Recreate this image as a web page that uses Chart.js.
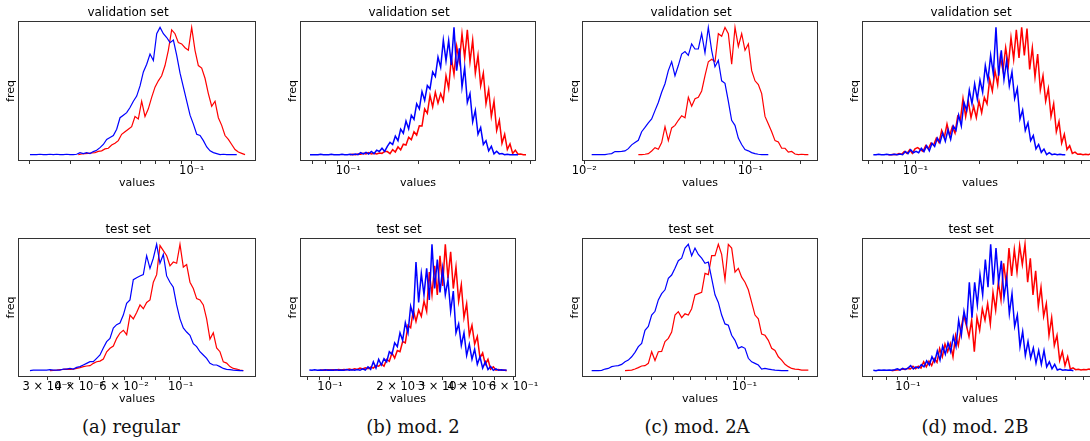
<!DOCTYPE html>
<html>
<head>
<meta charset="utf-8">
<script src="https://cdn.jsdelivr.net/npm/chart.js@4.4.1/dist/chart.umd.min.js"></script>
<style>
  body { margin: 0; width: 1090px; height: 441px; overflow: hidden; background: #fff; position: relative; }
  canvas { position: absolute; }
  .cap { position: absolute; font-family: 'DejaVu Serif', serif; font-size: 18px; line-height: 22px; color: #111; transform: translateX(-50%); white-space: nowrap; }
</style>
</head>
<body>
<div class="cap" style="left:131px; top:416px">(a) regular</div>
<div class="cap" style="left:413px; top:416px">(b) mod. 2</div>
<div class="cap" style="left:697px; top:416px">(c) mod. 2A</div>
<div class="cap" style="left:975px; top:416px">(d) mod. 2B</div>
<script>
// histogram heights (peak = 100), sampled evenly (in log space) over each span [first bin, last bin]

// (a) regular
const regValBlue = [0,0,0,0.3,0,0,0.3,0,0.3,0, 0,0.3,0,0,0.3,1.6,0.8,1.6,0.8,2.4, 3.4,5.5,8,12,13.5,15,20,29,31,33, 37,42,46,54,65,71,79,74,95,100, 95,92,88,90,78,64,53,42,31,24, 16,15,11,6,3,1.6,0.8,0,0.3,0, 0,0,0];
const regValBlueSpan = [0.02009, 0.1563];
const regValRed = [0,0.5,0.8,1,1.3,1.6,2.5,3,4.5,5, 7.5,9,11,16,18,20,22,30,28,42, 30,36,45,53,58,62,70,82,98,95, 88,87,84,82,100,82,70,68,60,48, 38,42,29,23,15,12,8,4,2,1, 0];
const regValRedSpan = [0.03245, 0.1697];
const regTestBlue = [0,0.5,0.5,0.5,0.5,0.5,0.8,0.5,0.5,0.5, 1.3,1.3,1.8,1.3,2.6,3.2,4.5,5.8,7.1,7.1, 9.8,12.4,17.9,23,25.6,33.8,36.4,37.7,44,53.3, 56,72,73.6,74.9,76,91,81,89,100,85, 92,75,70,66,52,41,33.8,30.6,28,21.4, 19,15,12.4,9.8,5.8,4.5,4.5,3.2,1.8,1, 0.8,0.5,0.3,0,0];
const regTestBlueSpan = [0.02564, 0.1760];
const regTestRed = [0,0.3,0.5,0.8,1,1.3,1,1.3,1.8,2.4, 3.2,3.7,4,5.8,7.1,7.6,9.2,15,17.7,19.5, 25.6,29.8,32,28.5,44,41,46,52,49,54, 56,70,76,99,95,91,83,86,85,100, 82,84,70,65,57,56,52,41,25,30, 18,15,7,6,3.2,1.8,1.3,0.5,0];
const regTestRedSpan = [0.03073, 0.1760];

// (b) mod. 2
const m2ValBlue = [0,0,0,0,0.3,0,0,0,0.3,0, 0,0,0.3,0,0,0.3,0,0.5,0, 1.5,0.5,1.8,0.5,2.5,0.8,3.5,2.5,5,2.5,6.5, 9.6,7.9,14.6,11,20,16.8,26.4,20.2,31,27.7, 40,36,49.5,42.6,54.3,51.6,65,61.4,76.6,68.6, 90,73.8,89.6,70.4,100,66,83.6,53,68.4,41, 48,25.8,34.8,16,21.3,8,11,3,6.5,0.6, 2.6,0.6,0.8,0,0.3,0,0,0,0];
const m2ValBlueSpan = [0.06861, 0.5311];
const m2ValRed = [0,0.3,0,0.5,0.3,1,0.5,1.6,0.5,1,0.5,1.3,1,2.5, 2.4,0.8,3.9,2.1,6.1,3.7,8.2,7.6,13.6,11.8, 18,15.4,22.6,22.5,36,32.5,46.5,37.5,49,40.5, 48,42.4,62,52,76,63,85,73,95,76, 98,73,90,64,78,54,64,40,51,30, 42,19,27,9,16,4,8.5,1,3.5,0.3, 0.5,0,0];
const m2ValRedSpan = [0.10169, 0.5746];
const m2TestBlue = [0.5,0.3,0.8,0.3,0.5,0.3,0.8,0.3,0.5,0.3, 0.8,0.3,0.5,0.3,1,0.3,0.8,0.3,1,0.3, 1.5,0.5,3,1,7,2,9,4.5,9.5,7, 15,13,22,19,30,24,38,30,51,43, 86,54,77,60,81,56,100,65,88,62, 81,60,72,47,63,30,37,20,30,12, 21,9,17,5,11,2,7,1,3.4,0.3, 1.5,0.3,0.8,0.3,0.5];
const m2TestBlueSpan = [0.08175, 0.5605];
const m2TestRed = [0.3,0.5,0.3,0.8,0.5,0.8,0.5,1,0.5,1, 0.8,1.3,0.8,1.5,1,2,1.3,2.2,1.5,2.8, 2,4,3.5,5.5,3.5,9,7.5,14,10,16, 15,23,22,36,34,48,39,48,43,55, 47,78,60,83,60,91,67,100,73,94, 65,82,55,68,42,53,28,36,21,27, 10,14,5,9,1.2,3,0.5,1,0.3,0.5, 0];
const m2TestRedSpan = [0.09071, 0.5605];

// (c) mod. 2A
const m2aValBlue = [0,0,0,0,0,0.5,0.8,2.4,2.4,2.6, 2.9,4.7,7.7,9.5,11.3,18,21.4,25,28,34.6, 41,49,55.7,66,73,62,70,79,81,78, 87,83,83,95,80,100,82,69,74,58, 56,42,27,23,13,8,4,3,1.6,0.8, 0.3,0,0,0];
const m2aValBlueSpan = [0.011076, 0.12834];
const m2aValRed = [0,0,0.3,0.8,2.9,5.5,4.2,9.5,22,11, 21,23,27,30.6,29,45,38,44,45,50, 62,73,75,73,95,93,100,95,71,100, 85,95,82,87,66,58,55,48,30,24, 18,11,10,5,5,2,2.5,0.5,0,0.3, 0,0];
const m2aValRedSpan = [0.02116, 0.22367];
const m2aTestBlue = [0,0,0,0.3,1.3,1.8,3.2,3.7,4,5, 7.1,8.4,11,14.5,19,21.6,32,35,44,47, 56,61,64,73,75.7,81,87,89,97,100, 91,97,92,89,85,86,73,60,54,44, 37,36,28,24,17.7,19,17.7,9.8,7,5.8, 4.5,1.3,1.8,1.3,0.8,0.5,0.3,0,0,0];
const m2aTestBlueSpan = [0.013849, 0.1763];
const m2aTestRed = [0,0.3,0.5,1.3,2.4,3.7,4,5.8,15,8, 15,15.3,23,25.6,30.6,44,46.7,42,45,44, 49,60,61,62,77,76,91,91,100,92, 72,100,97,78,81,74,70,64,54,44, 41,29,28,24,17.7,16,11,8.4,5,3.2, 1.8,1.3,1,0.5,0.5,0.5];
const m2aTestRedSpan = [0.021315, 0.22836];

// (d) mod. 2B
const m2bValBlue = [0,0,0.3,0,0,0.3,0,0,0.3,0, 0.5,0,2.5,0.8,3.9,1.5,2.6,1.5,5,2.4, 7,3,9,6.5,13,9.4,17,10.5,19.5,12, 22.5,19,31,22.5,41,34.7,50.6,40,55.6,43.6, 58.6,49,70,58.6,78,63.5,100,62,82,59, 74,54,65,44,52,28,35,19,25,11, 15,4.5,8,1.8,4.4,0,1.5,0,0.5,0, 0.3,0,0];
const m2bValBlueSpan = [0.06339, 0.505];
const m2bValRed = [0,0,0.3,0,0.8,0.3,2.5,1,3.8,1, 4.5,5.5,4,2.5,7,4.5,9,7.5,13,9.5, 19,13.5,24,15,22,17,30,27,44,30, 42,29,38,29,42,33,45,40,59,50, 66,55,77,66,84,70,92,75,98,76, 100,78,99,67,84,61,79,51,62,42, 52,30,40,18,26,9,16,4,7,1, 2,0.3,0.5,0,0.3,0,0.8];
const m2bValRedSpan = [0.07455, 0.6668];
const m2bTestBlue = [0.3,0,0.5,0.3,0.5,0.3,0.5,0.3,0.8,1.5, 0.5,1.8,1,2,4,1.3,3,2,4.8,3, 7.8,4.5,11,7,15.6,8.4,19.5,13,22,15, 27,19,40,28,47,37,70,42,70,52, 76,60,88,66,100,68,97,70,87,58, 73,45,61,35,44,19,31,12,23,10, 18,6,16,5,16,3,7,1.5,5,0.5, 1.3,0.3,0.8,0.3,0.5,0];
const m2bTestBlueSpan = [0.07024, 0.539];
const m2bTestRed = [0,0.3,0.5,0.8,1.3,1,1.8,1.3,3.5,1.6, 3.5,2,7,3,7.5,4,9.5,6.6,17.5,11, 21,15,21.5,11,28,20,33,44,36,27, 40,15,42,32,49,40,53,37,62,48, 70,56,85,68,97,75,96,78,99,84, 100,70,89,60,79,51,66,43,53,28, 42,20,28,8,15,4,11,1.2,2.3,0.8, 1.2,0.6,1,0.8,1.3,0.5];
const m2bTestRedSpan = [0.08466, 0.6496];

// x-axis ranges
const regValRange = [0.01784, 0.1892];
const m2ValRange = [0.06218, 0.634];
const m2aValRange = [0.009686, 0.2557];
const m2bValRange = [0.05608, 0.7192];
const regTestRange = [0.02301, 0.1974];
const m2TestRange = [0.07463, 0.6141];
const m2aTestRange = [0.012221, 0.2588];
const m2bTestRange = [0.06259, 0.6929];

// tick labels
const decadeLabels = [[0.01, '10⁻²'], [0.1, '10⁻¹']];
const regTestLabels = [[0.03, '3 × 10⁻²'], [0.04, '4 × 10⁻²'], [0.06, '6 × 10⁻²'], [0.1, '10⁻¹']];
const m2TestLabels = [[0.1, '10⁻¹'], [0.2, '2 × 10⁻¹'], [0.3, '3 × 10⁻¹'], [0.4, '4 × 10⁻¹'], [0.6, '6 × 10⁻¹']];

Chart.defaults.font.family = "'DejaVu Sans', sans-serif";
Chart.defaults.color = '#111';

function toPoints(values, span) {
  const n = values.length, r = span[1] / span[0];
  return values.map((y, i) => ({ x: span[0] * Math.pow(r, i / (n - 1)), y: y }));
}

function logTicks(range) {
  const out = [];
  for (let e = Math.floor(Math.log10(range[0])); e <= Math.ceil(Math.log10(range[1])); e++) {
    for (let m = 1; m <= 9; m++) {
      const v = +(m * Math.pow(10, e)).toPrecision(6);
      if (v >= range[0] && v <= range[1]) out.push({ value: v, major: m === 1 });
    }
  }
  return out;
}

const framePlugin = {
  id: 'frame',
  afterDraw(chart) {
    const a = chart.chartArea, c = chart.ctx;
    c.save();
    c.strokeStyle = '#333';
    c.lineWidth = 1;
    c.strokeRect(Math.round(a.left) + 0.5, Math.round(a.top) + 0.5, Math.round(a.right - a.left) - 1, Math.round(a.bottom - a.top) - 1);
    c.restore();
  }
};

// noisy: the dense, jittery histograms get a slightly heavier line
const panels = [
  { box: [18, 21, 256, 161], title: 'validation set', range: regValRange, labels: decadeLabels, noisy: false, blue: toPoints(regValBlue, regValBlueSpan), red: toPoints(regValRed, regValRedSpan) },
  { box: [300, 21, 536, 161], title: 'validation set', range: m2ValRange, labels: decadeLabels, noisy: true, blue: toPoints(m2ValBlue, m2ValBlueSpan), red: toPoints(m2ValRed, m2ValRedSpan) },
  { box: [582, 21, 818, 161], title: 'validation set', range: m2aValRange, labels: decadeLabels, noisy: false, blue: toPoints(m2aValBlue, m2aValBlueSpan), red: toPoints(m2aValRed, m2aValRedSpan) },
  { box: [862, 21, 1098, 161], title: 'validation set', range: m2bValRange, labels: decadeLabels, noisy: true, blue: toPoints(m2bValBlue, m2bValBlueSpan), red: toPoints(m2bValRed, m2bValRedSpan) },
  { box: [18, 238, 256, 377], title: 'test set', range: regTestRange, labels: regTestLabels, noisy: false, blue: toPoints(regTestBlue, regTestBlueSpan), red: toPoints(regTestRed, regTestRedSpan) },
  { box: [300, 238, 516, 377], title: 'test set', range: m2TestRange, labels: m2TestLabels, noisy: true, blue: toPoints(m2TestBlue, m2TestBlueSpan), red: toPoints(m2TestRed, m2TestRedSpan) },
  { box: [582, 238, 818, 377], title: 'test set', range: m2aTestRange, labels: decadeLabels, noisy: false, blue: toPoints(m2aTestBlue, m2aTestBlueSpan), red: toPoints(m2aTestRed, m2aTestRedSpan) },
  { box: [862, 238, 1098, 377], title: 'test set', range: m2bTestRange, labels: decadeLabels, noisy: true, blue: toPoints(m2bTestBlue, m2bTestBlueSpan), red: toPoints(m2bTestRed, m2bTestRedSpan) }
];

const yAxisW = 18, titleH = 21, xAxisH = 30, padR = 40;

panels.forEach(function(p) {
  const [L, T, R, B] = p.box;
  const canvas = document.createElement('canvas');
  canvas.width = R - L + yAxisW + padR;
  canvas.height = B - T + titleH + xAxisH;
  canvas.style.left = (L - yAxisW) + 'px';
  canvas.style.top = (T - titleH) + 'px';
  document.body.appendChild(canvas);

  const labelFor = function(v) {
    const hit = p.labels.find(function(l) { return Math.abs(l[0] - v) < 1e-9; });
    return hit ? hit[1] : '';
  };
  const lw = p.noisy ? 1.5 : 1.2;

  new Chart(canvas.getContext('2d'), {
    type: 'line',
    data: {
      datasets: [
        { data: p.blue, borderColor: '#0000ff', borderWidth: lw, pointRadius: 0, fill: false, tension: 0 },
        { data: p.red, borderColor: '#ff0000', borderWidth: lw, pointRadius: 0, fill: false, tension: 0 }
      ]
    },
    options: {
      responsive: false,
      animation: false,
      events: [],
      layout: { padding: { left: 0, top: 0, right: padR, bottom: 0 } },
      plugins: {
        legend: { display: false },
        tooltip: { enabled: false },
        title: { display: true, text: p.title, color: '#000', font: { size: 12, weight: 'normal' }, padding: { top: 6, bottom: 0.6 } }
      },
      scales: {
        x: {
          type: 'logarithmic',
          bounds: 'data',
          min: p.range[0],
          max: p.range[1],
          border: { display: false },
          grid: { display: true, drawOnChartArea: false, drawTicks: true, tickLength: 3, color: '#333' },
          ticks: { autoSkip: false, maxRotation: 0, padding: 0.4, color: '#000', font: { size: 11.5 }, callback: function(v) { return labelFor(v); } },
          title: { display: true, text: 'values', color: '#000', font: { size: 11 }, padding: { top: 0, bottom: 1.7 } },
          afterBuildTicks: function(scale) { scale.ticks = logTicks(p.range); },
          afterFit: function(scale) { scale.height = xAxisH; scale.paddingLeft = 0; scale.paddingRight = 0; }
        },
        y: {
          type: 'linear',
          min: -5,
          max: 105,
          border: { display: false },
          grid: { display: false },
          ticks: { display: false },
          title: { display: true, text: 'freq', color: '#000', font: { size: 11 }, padding: { top: 4.4, bottom: 0 } },
          afterFit: function(scale) { scale.width = yAxisW; scale.paddingTop = 0; scale.paddingBottom = 0; }
        }
      }
    },
    plugins: [framePlugin]
  });
});
</script>
</body>
</html>
